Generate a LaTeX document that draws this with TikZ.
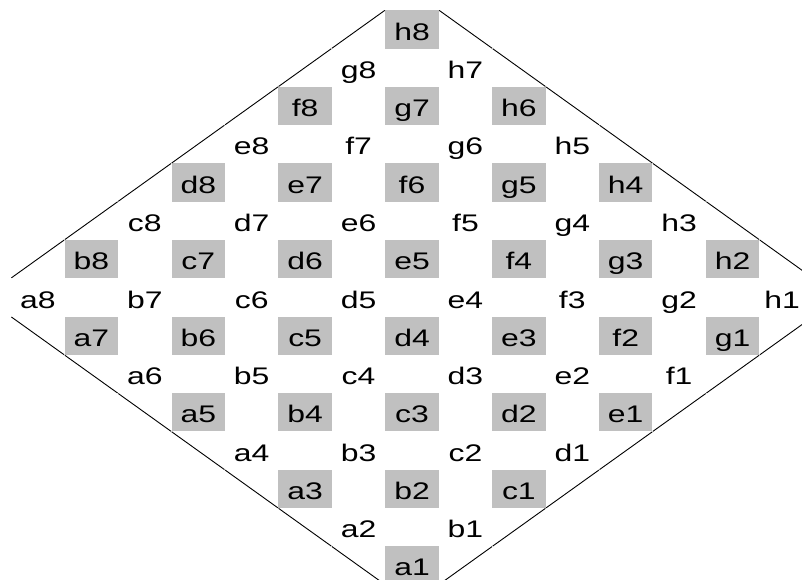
\documentclass[tikz,border=0pt]{standalone}
\usepackage{fontspec}
\setmainfont{Liberation Sans}
\newfontfamily\lblfont{Liberation Sans}[FakeStretch=1.33]
\definecolor{sqgray}{RGB}{192,192,192}
\begin{document}
\begin{tikzpicture}[x=1pt,y=-1pt,
  lbl/.style={font=\lblfont\fontsize{24}{28}\selectfont, inner sep=0pt,
    minimum width=53.43pt, minimum height=38.27pt,
    text height=21.2pt, text depth=0pt, anchor=center},
  dark/.style={lbl, fill=sqgray},
  border/.style={line width=0.9pt, black, shorten <=0.4pt, shorten >=0.4pt}]
\useasboundingbox (0,0) rectangle (802,580);
\foreach \fl [count=\fidx from 0] in {a,b,c,d,e,f,g,h} {
  \foreach \rk in {1,...,8} {
    \pgfmathsetmacro\xx{412+(\fidx-\rk+1)*53.43}
    \pgfmathsetmacro\yy{565.3-(\fidx+\rk-1)*38.27}
    \pgfmathsetmacro\tx{-4*(\fidx==7)*(\rk==1)}
    \pgfmathtruncatemacro\sqpar{mod(\fidx+\rk-1,2)}
    \ifnum\sqpar=0
      \node[dark] (\fl\rk) at (\xx,\yy) {\fl\rk};
    \else
      \node[lbl] (\fl\rk) at (\xx,\yy) {\hspace*{\tx pt}\fl\rk\hspace*{-\tx pt}};
    \fi
  }
}
\foreach \a/\b in {h/g,g/f,f/e,e/d,d/c,c/b,b/a} {
  \draw[border] (\a8.north west) -- (\b8.north west);
  \draw[border] (\a1.south east) -- (\b1.south east);
}
\foreach \i/\j in {8/7,7/6,6/5,5/4,4/3,3/2,2/1} {
  \draw[border] (a\i.south west) -- (a\j.south west);
  \draw[border] (h\i.north east) -- (h\j.north east);
}
\end{tikzpicture}
\end{document}
